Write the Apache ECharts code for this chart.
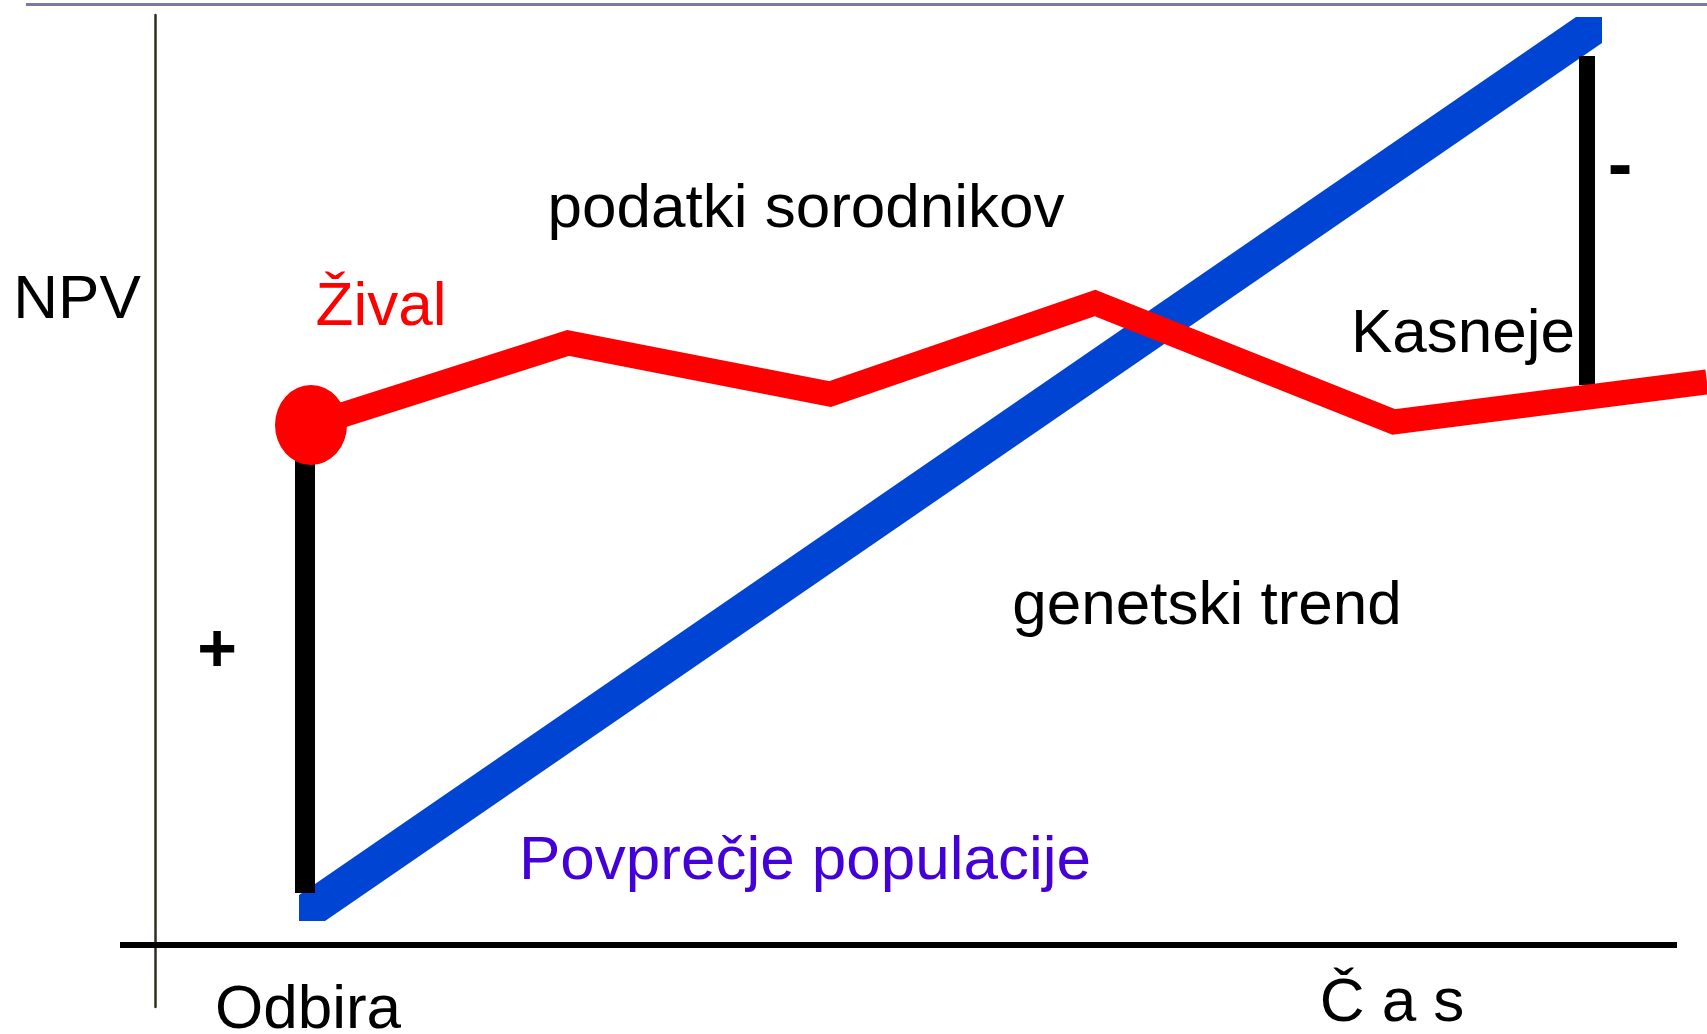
<!DOCTYPE html>
<html><head><meta charset="utf-8">
<script src="https://cdn.jsdelivr.net/npm/echarts@6/dist/echarts.min.js"></script>
<style>html,body{margin:0;padding:0;background:#fff;overflow:hidden}#c{width:1707px;height:1034px;}</style>
</head><body><div id="c"></div>
<script>
// Time (x) and NPV (y) values
const animalX = [156, 413, 675, 940, 1239, 1552];
const animalY = [520, 602, 551, 642, 523, 563];
const trendX = [157, 1434];
const trendY = [37, 915];
const barX = [150, 1432];
const barLow = [52, 560];
const barHigh = [520, 889];
const xRange = [-35, 1552];
const yRange = [-62, 930];
const timeAxisEnd = [-35, 1522];

const FONT = '"Liberation Sans", Arial, Helvetica, sans-serif';
const chart = echarts.init(document.getElementById('c'), null, {renderer: 'canvas'});

const animalData = animalX.map((x, i) => [x, animalY[i]]);
const barSeries = barX.map((x, i) => ({
  type: 'line', data: [[x, barLow[i]], [x, barHigh[i]]], showSymbol: false, silent: true,
  lineStyle: {color: '#000', width: i === 0 ? 20 : 16, cap: 'butt'}, z: 3, clip: false
}));

function txt(text, x, y, opts) {
  return {type: 'text', x: x, y: y, silent: true, z: 10, style: {
    text: text, font: (opts && opts.font) || ('62px ' + FONT), fill: (opts && opts.fill) || '#000',
    align: 'center', verticalAlign: 'middle'}};
}

chart.setOption({
  animation: false,
  backgroundColor: '#fff',
  grid: {left: 120, right: 0, top: 15, bottom: 27},
  xAxis: {type: 'value', min: xRange[0], max: xRange[1], axisLabel: {show: false}, axisTick: {show: false},
    splitLine: {show: false}, axisLine: {show: false}},
  yAxis: {type: 'value', min: yRange[0], max: yRange[1], axisLabel: {show: false}, axisTick: {show: false},
    splitLine: {show: false}, axisLine: {show: true, onZero: true, lineStyle: {color: '#2e2e1e', width: 2.5}}},
  series: [
    {
      type: 'custom', z: 2, silent: true,
      data: [[trendX[0], trendY[0], trendX[1], trendY[1]]],
      renderItem: function (params, api) {
        const a = api.coord([api.value(0), api.value(1)]);
        const b = api.coord([api.value(2), api.value(3)]);
        const h = 13;
        return {type: 'polygon', shape: {points: [
          [a[0] - h, a[1] + h], [a[0] + h, a[1] + h], [b[0] + h, b[1] + h],
          [b[0] + h, b[1] - h], [b[0] - h, b[1] - h], [a[0] - h, a[1] - h]]},
          style: {fill: '#0044d4'}};
      },
      markLine: {
        silent: true, symbol: ['none', 'none'], label: {show: false},
        lineStyle: {color: '#000', width: 6, type: 'solid'},
        data: [[{coord: [timeAxisEnd[0], 0]}, {coord: [timeAxisEnd[1], 0]}]]
      }
    },
    ...barSeries,
    {
      type: 'line', data: animalData, showSymbol: false, silent: true, clip: false, z: 4,
      lineStyle: {color: '#ff0000', width: 25, cap: 'butt', join: 'miter'}
    },
    {
      type: 'scatter', data: [animalData[0]], symbol: 'circle', symbolSize: [72, 80], silent: true, z: 5,
      itemStyle: {color: '#ff0000', opacity: 1}
    }
  ],
  graphic: [
    {type: 'line', silent: true, shape: {x1: 26, y1: 4.5, x2: 1707, y2: 4.5}, style: {stroke: '#7a7aa2', lineWidth: 3}},
    txt('NPV', 77, 301),
    txt('Žival', 381, 308, {fill: '#ff0000'}),
    txt('podatki sorodnikov', 806, 210),
    txt('Kasneje', 1463, 335),
    txt('genetski trend', 1207, 607),
    txt('Povprečje populacije', 805, 862, {fill: '#4400d8'}),
    txt('Odbira', 308, 1011),
    txt('Č a s', 1392, 1004),
    txt('+', 217, 652, {font: 'bold 68px ' + FONT}),
    txt('-', 1620, 169, {font: 'bold 74px ' + FONT})
  ]
});
</script></body></html>
